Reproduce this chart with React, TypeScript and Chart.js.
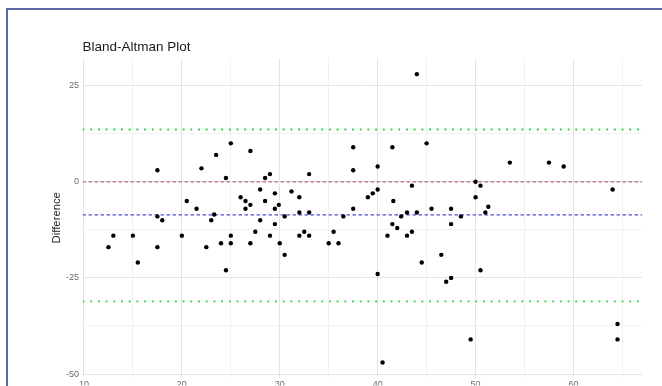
import React, { useEffect, useRef } from "react";
import { Chart, registerables } from "chart.js";

Chart.register(...registerables);

// Mean of the two measurements (x) and their difference (y)
const meanValues: number[] = [
  12.5, 13.0, 15.0, 15.5, 17.5, 17.5, 18.0, 17.5, 20.0, 20.5,
  21.5, 22.0, 22.5, 23.0, 23.3, 23.5, 24.0, 24.5, 24.5, 25.0,
  25.0, 25.0, 26.0, 26.5, 26.5, 27.0, 27.0, 27.0, 27.5, 28.0,
  28.0, 28.5, 28.5, 29.0, 29.0, 29.5, 29.5, 29.5, 29.9, 30.0,
  30.5, 30.5, 31.2, 32.0, 32.0, 32.0, 32.5, 33.0, 33.0, 33.0,
  35.0, 35.5, 36.0, 36.5, 37.5, 37.5, 37.5, 39.0, 39.5, 40.0,
  40.0, 40.0, 40.5, 41.0, 41.5, 41.5, 41.6, 42.0, 42.4, 43.0,
  43.0, 43.5, 43.5, 44.0, 44.0, 44.5, 45.0, 45.5, 46.5, 47.0,
  47.5, 47.5, 47.5, 48.5, 49.5, 50.0, 50.0, 50.5, 50.5, 51.0,
  51.3, 53.5, 57.5, 59.0, 64.0, 64.5, 64.5,
];
const diffValues: number[] = [
  -17, -14, -14, -21, 3, -9, -10, -17, -14, -5,
  -7, 3.5, -17, -10, -8.5, 7, -16, 1, -23, 10,
  -14, -16, -4, -5, -7, 8, -6, -16, -13, -2,
  -10, 1, -5, 2, -14, -3, -7, -11, -6, -16,
  -9, -19, -2.5, -4, -8, -14, -13, 2, -8, -14,
  -16, -13, -16, -9, 9, 3, -7, -4, -3, -2,
  4, -24, -47, -14, 9, -11, -5, -12, -9, -8,
  -14, -1, -13, 28, -8, -21, 10, -7, -19, -26,
  -7, -11, -25, -9, -41, 0, -4, -1, -23, -8,
  -6.5, 5, 5, 4, -2, -37, -41,
];

const meanDifference = -8.6;
const upperLimit = 13.6;
const lowerLimit = -31.1;
const zeroLine = 0;

const xBounds = [9.85, 67.0];
const yBounds = [-50.8, 32.1];
const xTickValues = [10, 15, 20, 25, 30, 35, 40, 45, 50, 55, 60, 65];
const xMajorTicks = [10, 20, 30, 40, 50, 60];
const yTickValues = [-50, -37.5, -25, -12.5, 0, 12.5, 25];
const yMajorTicks = [-50, -25, 0, 25];

const titleText = "Bland-Altman Plot";
const yTitleText = "Difference";

function hLine(y: number, color: string, dash: number[], width: number) {
  return {
    type: "line" as const,
    data: [
      { x: xBounds[0], y },
      { x: xBounds[1], y },
    ],
    borderColor: color,
    backgroundColor: color,
    borderWidth: width,
    borderDash: dash,
    borderCapStyle: "butt",
    pointRadius: 0,
    fill: false,
    showLine: true,
  };
}

export default function App() {
  const canvasRef = useRef<HTMLCanvasElement | null>(null);

  useEffect(() => {
    if (!canvasRef.current) return;
    Chart.defaults.font.family = "'Liberation Sans', Arial, sans-serif";
    const points = meanValues.map((x, i) => ({ x, y: diffValues[i] }));
    const gridColor = (majors: number[]) => (ctx: any) => {
      const v = ctx.tick ? ctx.tick.value : null;
      return v !== null && majors.includes(v) ? "#e4e4e4" : "#f1f1f1";
    };
    const chart = new Chart(canvasRef.current, {
      type: "scatter",
      data: {
        datasets: [
          {
            data: points,
            backgroundColor: "#000000",
            borderWidth: 0,
            pointRadius: 2.2,
            pointHoverRadius: 2.2,
          } as any,
          hLine(upperLimit, "#3cd23c", [2, 5.7], 1.8),
          hLine(lowerLimit, "#3cd23c", [2, 5.7], 1.8),
          hLine(zeroLine, "#b8688a", [3.5, 2.5], 1.3),
          hLine(meanDifference, "#5050d0", [3.5, 2.5], 1.3),
        ],
      },
      options: {
        animation: false,
        responsive: false,
        devicePixelRatio: 1,
        layout: { padding: { left: 50, right: 20, top: 0, bottom: 0 } },
        plugins: {
          legend: { display: false },
          tooltip: { enabled: false },
          title: {
            display: true,
            text: titleText,
            align: "start",
            fullSize: false,
            color: "#1a1a1a",
            font: { size: 13.5, weight: "normal" },
            padding: { top: 39, bottom: 3.2 },
          },
        },
        scales: {
          x: {
            type: "linear",
            min: xBounds[0],
            max: xBounds[1],
            afterBuildTicks: (scale: any) => {
              scale.ticks = xTickValues.map((v) => ({ value: v }));
            },
            afterFit: (scale: any) => {
              scale.height = 8.4;
            },
            ticks: {
              autoSkip: false,
              maxRotation: 0,
              padding: 2,
              color: "#6b6b6b",
              font: { size: 9 },
              callback: (v: any) => (xMajorTicks.includes(Number(v)) ? String(v) : ""),
            },
            grid: { color: gridColor(xMajorTicks), drawTicks: false, lineWidth: 1 },
            border: { display: false },
          },
          y: {
            type: "linear",
            min: yBounds[0],
            max: yBounds[1],
            afterBuildTicks: (scale: any) => {
              scale.ticks = yTickValues.map((v) => ({ value: v }));
            },
            afterFit: (scale: any) => {
              scale.width = 32.5;
            },
            ticks: {
              autoSkip: false,
              padding: 3.5,
              color: "#6b6b6b",
              font: { size: 9 },
              callback: (v: any) => (yMajorTicks.includes(Number(v)) ? String(v) : ""),
            },
            grid: { color: gridColor(yMajorTicks), drawTicks: false, lineWidth: 1 },
            border: { display: false },
            title: {
              display: true,
              text: yTitleText,
              color: "#222222",
              font: { size: 11.3 },
              padding: { top: 0, bottom: 0 },
            },
          },
        },
      } as any,
    });
    return () => chart.destroy();
  }, []);

  return (
    <div style={{ position: "fixed", left: 0, top: 0, width: 662, height: 386, overflow: "hidden", background: "#ffffff" }}>
      <div
        style={{
          position: "absolute",
          left: 6,
          top: 8,
          width: 720,
          height: 420,
          borderTop: "2px solid #5b66a6",
          borderLeft: "2px solid #5b66a6",
        }}
      />
      <canvas
        ref={canvasRef}
        width={662}
        height={386}
        style={{ position: "absolute", left: 0, top: 0, width: 662, height: 386, display: "block" }}
      />
    </div>
  );
}
